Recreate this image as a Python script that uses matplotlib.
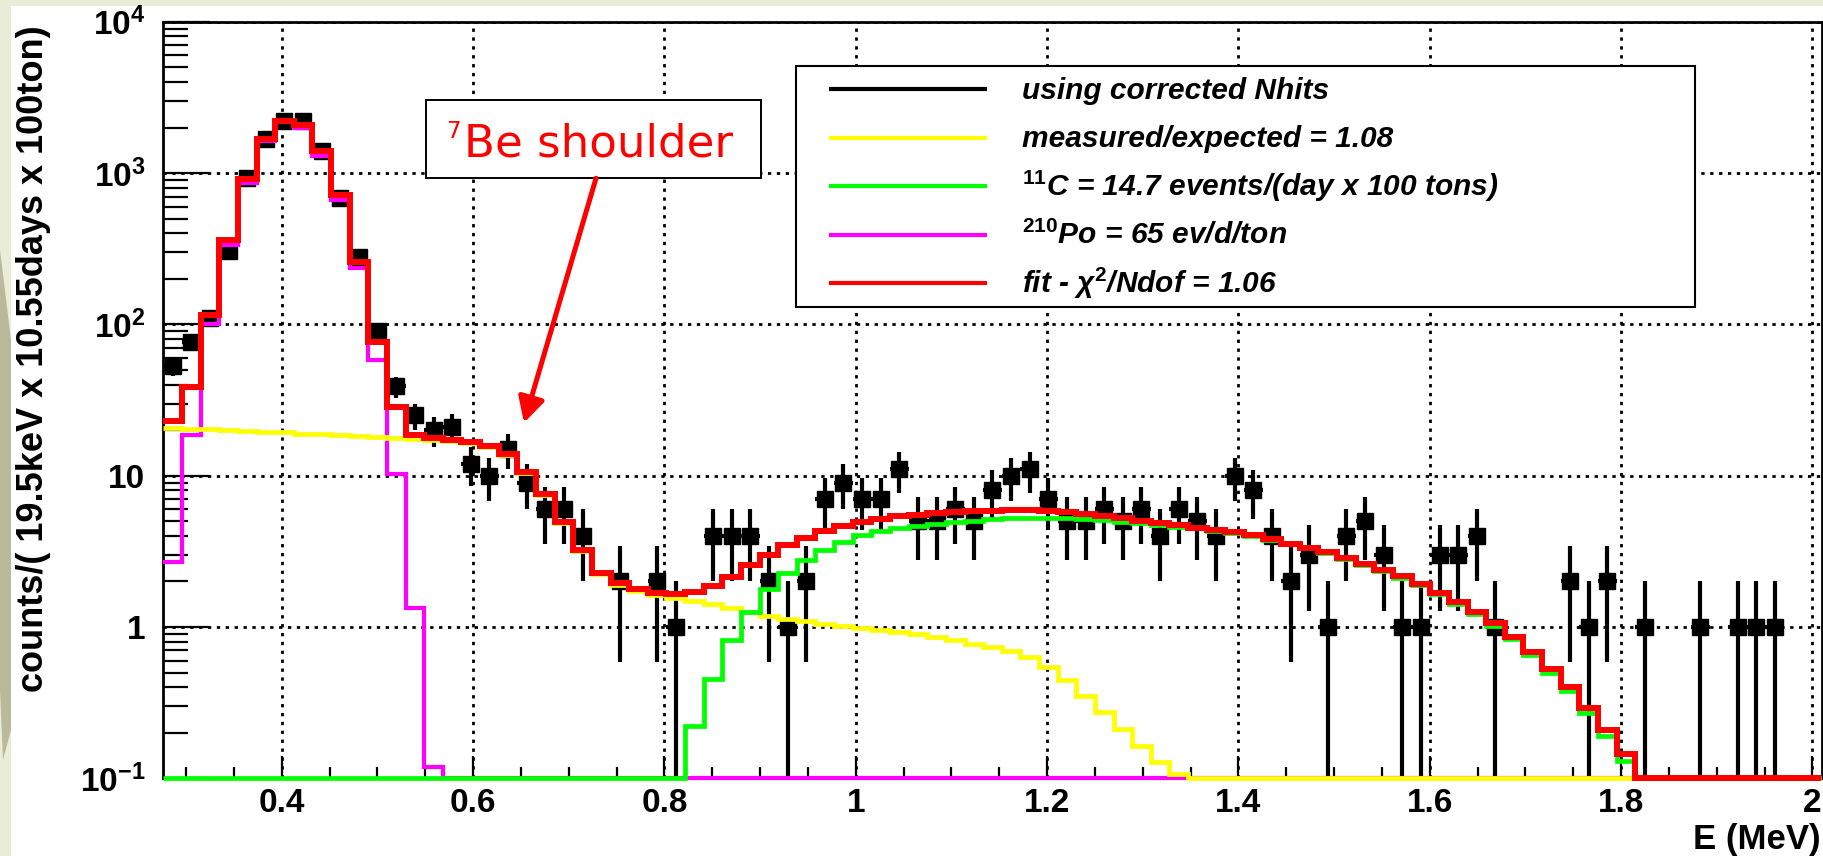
import numpy as np
import matplotlib
matplotlib.use("Agg")
import matplotlib.pyplot as plt
from matplotlib.patches import Rectangle, Polygon, FancyArrowPatch
from matplotlib.lines import Line2D
from matplotlib.ticker import FixedLocator, LogLocator, NullFormatter, MultipleLocator

# energy binning of the histogram (MeV)
e_lo, e_hi, n_bins = 0.2762, 2.0095, 89

# data: counts per bin ("using corrected Nhits")
counts = [53, 76, 111, 305, 927, 1680, 2200, 2200, 1400, 687,
          278, 90, 39, 25, 20, 21, 12, 10, 15, 9,
          6, 6, 4, 0, 2, 0, 2, 1, 0, 4,
          4, 4, 2, 1, 2, 7, 9, 7, 7, 11,
          5, 5, 6, 5, 8, 10, 11, 7, 5, 5,
          6, 5, 6, 4, 6, 5, 4, 10, 8, 4,
          2, 3, 1, 4, 5, 3, 1, 1, 3, 3,
          4, 1, 0, 0, 0, 2, 1, 2, 0, 1,
          0, 0, 1, 0, 1, 1, 1, 0, 0]

# 7Be component (measured/expected)
be7 = [20.8, 20.5, 20.3, 20.0, 19.8, 19.5, 19.3, 19.0, 18.8, 18.5,
       18.3, 18.0, 17.8, 17.5, 17.3, 17.0, 16.4, 15.4, 13.7, 10.4,
       7.45, 4.9, 3.18, 2.25, 1.9, 1.72, 1.62, 1.56, 1.48, 1.41,
       1.34, 1.26, 1.19, 1.13, 1.10, 1.05, 1.02, 0.99, 0.96, 0.93,
       0.894, 0.858, 0.816, 0.776, 0.737, 0.694, 0.63, 0.543, 0.443, 0.352,
       0.273, 0.212, 0.164, 0.128, 0.107, 0, 0, 0, 0, 0,
       0, 0, 0, 0, 0, 0, 0, 0, 0, 0,
       0, 0, 0, 0, 0, 0, 0, 0, 0, 0,
       0, 0, 0, 0, 0, 0, 0, 0, 0]

# 11C component
c11 = [0, 0, 0, 0, 0, 0, 0, 0, 0, 0,
       0, 0, 0, 0, 0, 0, 0, 0, 0, 0,
       0, 0, 0, 0, 0, 0, 0, 0, 0.22, 0.455,
       0.816, 1.26, 1.77, 2.28, 2.79, 3.22, 3.62, 4.04, 4.3, 4.5,
       4.65, 4.8, 4.95, 5.05, 5.15, 5.22, 5.27, 5.28, 5.25, 5.2,
       5.1, 4.98, 4.84, 4.72, 4.58, 4.48, 4.33, 4.17, 4.0, 3.75,
       3.52, 3.31, 3.07, 2.83, 2.58, 2.35, 2.12, 1.89, 1.64, 1.42,
       1.21, 1.02, 0.83, 0.65, 0.5, 0.38, 0.27, 0.19, 0.13, 0,
       0, 0, 0, 0, 0, 0, 0, 0, 0]

# 210Po component
po210 = [2.68, 18.5, 100, 336, 860, 1630, 2170, 2000, 1300, 660,
         236, 58.6, 10.2, 1.33, 0.118] + [0] * 74

# total fit
fit = [22.9, 38.7, 115, 362, 915, 1690, 2200, 2090, 1400, 713,
       258, 77, 28.6, 18.6, 17.7, 17.2, 16.6, 15.6, 13.9, 10.6,
       7.56, 4.96, 3.22, 2.28, 1.94, 1.77, 1.68, 1.64, 1.70, 1.86,
       2.14, 2.56, 2.98, 3.47, 3.9, 4.32, 4.64, 4.96, 5.2, 5.4,
       5.54, 5.66, 5.77, 5.83, 5.88, 5.9, 5.9, 5.84, 5.72, 5.56,
       5.4, 5.22, 5.03, 4.88, 4.71, 4.52, 4.37, 4.24, 4.05, 3.8,
       3.55, 3.35, 3.11, 2.86, 2.62, 2.39, 2.16, 1.93, 1.68, 1.46,
       1.25, 1.06, 0.86, 0.68, 0.53, 0.40, 0.29, 0.207, 0.144, 0,
       0, 0, 0, 0, 0, 0, 0, 0, 0]

x_ticks = [0.4, 0.6, 0.8, 1.0, 1.2, 1.4, 1.6, 1.8, 2.0]
x_tick_labels = ["0.4", "0.6", "0.8", "1", "1.2", "1.4", "1.6", "1.8", "2"]
y_ticks = [0.1, 1, 10, 100, 1000, 10000]
y_tick_labels = [r"$\mathbf{10^{-1}}$", "1", "10",
                 r"$\mathbf{10^{2}}$", r"$\mathbf{10^{3}}$", r"$\mathbf{10^{4}}$"]

legend_labels = ["using corrected Nhits",
                 "measured/expected = 1.08",
                 r"$^{\mathit{11}}$C = 14.7 events/(day x 100 tons)",
                 r"$^{\mathit{210}}$Po = 65 ev/d/ton",
                 r"fit - χ$^{\mathit{2}}$/Ndof = 1.06"]
legend_colors = ["black", "#ffff00", "#00ff00", "#ff00ff", "#ff0000"]

plt.rcParams["font.family"] = ["Liberation Sans", "DejaVu Sans"]
plt.rcParams["mathtext.fontset"] = "custom"
plt.rcParams["mathtext.rm"] = "Liberation Sans:bold"
plt.rcParams["mathtext.bf"] = "Liberation Sans:bold"
plt.rcParams["mathtext.it"] = "Liberation Sans:bold:italic"

W, H = 1824, 856


def fx(x):
    return x / W


def fy(y):
    return 1 - y / H


fig = plt.figure(figsize=(W / 100, H / 100), dpi=100)
fig.patch.set_facecolor("#e9ecd6")
# slide background: white area plus the olive streak on the left
fig.add_artist(Rectangle((fx(11), 0), 1, fy(6), transform=fig.transFigure,
                         facecolor="white", edgecolor="none", zorder=-10))
fig.add_artist(Polygon([(fx(0), fy(250)), (fx(11), fy(340)), (fx(11), fy(730)),
                        (fx(3), fy(760)), (fx(0), fy(690))],
                       closed=True, transform=fig.transFigure,
                       facecolor="#b9b99b", edgecolor="none", zorder=-9))

ax = fig.add_axes([fx(163.4), fy(778.3), fx(1821.5 - 163.4), (778.3 - 21.8) / H])

edges = np.linspace(e_lo, e_hi, n_bins + 1)
centers = 0.5 * (edges[:-1] + edges[1:])
half_w = 0.5 * (edges[1] - edges[0])

n = np.array(counts, dtype=float)
sel = n > 0
lo = np.where(n - np.sqrt(n) > 0, n - np.sqrt(n), 1e-3)
yerr = np.vstack([n - lo, np.sqrt(n)])
ax.errorbar(centers[sel], n[sel], yerr=yerr[:, sel], xerr=half_w,
            fmt="s", color="black", ms=11, elinewidth=3.0, capsize=0, zorder=3)

ymin = 0.1
for vals, col, lw in [(po210, "#ff00ff", 3.0), (be7, "#ffff00", 3.4),
                      (c11, "#00ff00", 3.4), (fit, "#ff0000", 4.3)]:
    v = np.clip(np.array(vals, dtype=float), ymin, None)
    ax.stairs(v, edges, baseline=None, color=col, linewidth=lw,
              clip_on=False, zorder=4, joinstyle="miter")

ax.set_yscale("log")
ax.set_xlim(e_lo, e_hi)
ax.set_ylim(ymin, 1e4)

ax.xaxis.set_major_locator(FixedLocator(x_ticks))
ax.set_xticklabels(x_tick_labels)
ax.xaxis.set_minor_locator(MultipleLocator(0.05))
ax.yaxis.set_major_locator(FixedLocator(y_ticks))
ax.set_yticklabels(y_tick_labels)
ax.yaxis.set_minor_locator(LogLocator(base=10, subs=np.arange(2, 10)))
ax.yaxis.set_minor_formatter(NullFormatter())

ax.tick_params(axis="x", which="major", direction="in", length=16, width=1.6,
               labelsize=24, pad=7)
ax.tick_params(axis="x", which="minor", direction="in", length=8, width=1.6)
ax.tick_params(axis="y", which="major", direction="in", length=34, width=1.6,
               labelsize=24, pad=13)
ax.tick_params(axis="y", which="minor", direction="in", length=18, width=1.6)
for lab in ax.get_xticklabels() + ax.get_yticklabels():
    lab.set_fontweight("bold")

ax.grid(True, which="major", color="black", linestyle=(0, (1.2, 2.0)), linewidth=2)
ax.set_axisbelow(True)
for sp in ax.spines.values():
    sp.set_linewidth(2)

fig.text(fx(33.5), fy(25), "counts/( 19.5keV x 10.55days x 100ton)",
         rotation=90, ha="center", va="top", fontsize=26, fontweight="bold")
fig.text(fx(1821), fy(849), "E (MeV)", ha="right", va="baseline",
         fontsize=25, fontweight="bold")

# legend box
fig.add_artist(Rectangle((fx(796.3), fy(306.7)), fx(1694.6 - 796.3), (306.7 - 65.7) / H,
                         transform=fig.transFigure, facecolor="white",
                         edgecolor="black", linewidth=1.5, zorder=5))
for i, (lab, col) in enumerate(zip(legend_labels, legend_colors)):
    yl = 89 + i * 48.5
    fig.add_artist(Line2D([fx(829.5), fx(987.3)], [fy(yl), fy(yl)],
                          transform=fig.transFigure, color=col, linewidth=3,
                          solid_capstyle="butt", zorder=6))
    fig.text(fx(1022), fy(yl + 9.7), lab, ha="left", va="baseline", fontsize=21.5,
             fontweight="bold", fontstyle="italic", zorder=6)

# 7Be shoulder annotation
fig.add_artist(Rectangle((fx(426), fy(178.3)), fx(761.5 - 426), (178.3 - 100) / H,
                         transform=fig.transFigure, facecolor="white",
                         edgecolor="black", linewidth=1.4, zorder=5))
fig.text(fx(446), fy(138.3), "7", color="red", fontsize=16.5, family="DejaVu Sans",
         ha="left", va="baseline", zorder=6)
fig.text(fx(464), fy(156.7), "Be shoulder", color="red", fontsize=32.5,
         family="DejaVu Sans", ha="left", va="baseline", zorder=6)
fig.add_artist(FancyArrowPatch((fx(596), fy(178.3)), (fx(524), fy(422.7)),
                               transform=fig.transFigure,
                               arrowstyle="-|>,head_length=15,head_width=8",
                               mutation_scale=1, shrinkA=0, shrinkB=0,
                               color="red", linewidth=3.6, zorder=6))

fig.savefig("out.png", dpi=100, facecolor=fig.get_facecolor())
